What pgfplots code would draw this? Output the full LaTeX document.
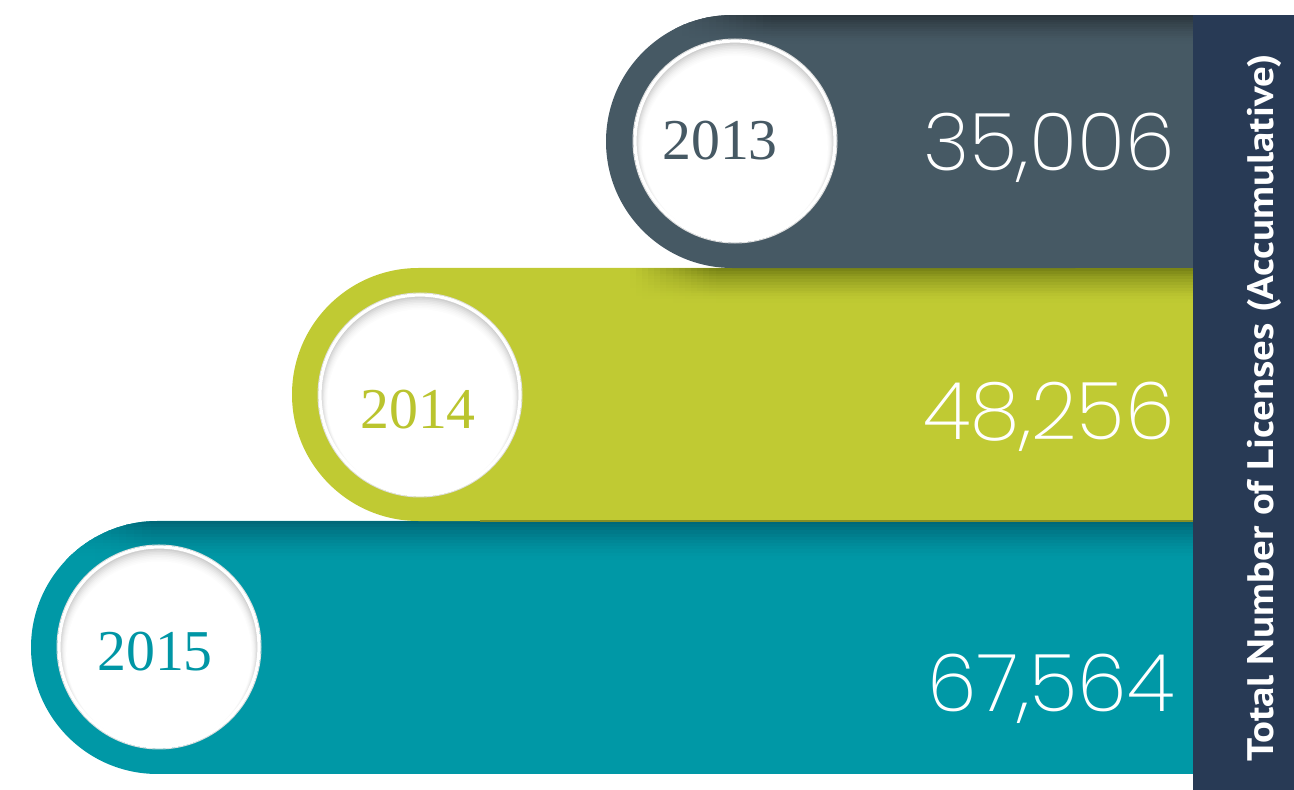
\documentclass[border=0pt]{standalone}
\usepackage{pgfplots}
\pgfplotsset{compat=1.18}
\usepackage{pgfplotstable}
\usepackage{graphicx}
\usepackage{fontspec}
\setmainfont{Liberation Serif}
\IfFontExistsTF{Poppins ExtraLight}{\newfontfamily\valfont{Poppins ExtraLight}}{\newfontfamily\valfont{Poppins Light}}
\newfontfamily\bandfont{PT Sans}
\definecolor{cA}{HTML}{465964}
\definecolor{cAd}{HTML}{2A353C}
\definecolor{cB}{HTML}{C0CA33}
\definecolor{cBd}{HTML}{7A8516}
\definecolor{cC}{HTML}{0098A6}
\definecolor{cCd}{HTML}{006878}
\definecolor{band}{HTML}{283A55}
\definecolor{yA}{HTML}{465964}
\definecolor{yB}{HTML}{BAC42E}
\definecolor{yC}{HTML}{0096A5}
\pgfplotstableread{
year value vx vy
2013 35006 1175 170
2014 48256 1175 440
2015 67564 1175 712
}\licenses
% bar body with a round left end
\newcommand{\licpath}[3]{(axis cs:1193,#2) -- (axis cs:#1+126.5,#2) arc[start angle=90,end angle=270,radius=63.25bp] -- (axis cs:1193,#3) -- cycle}
\newcommand{\licbar}[8]{% #1 left #2 top #3 bottom #4 colour #5 dark #6 fade start #7 fade end #8 shadow depth
  \fill[#4] \licpath{#1}{#2}{#3};
  \begin{scope}
    \clip \licpath{#1}{#2}{#3};
    \foreach \i in {0,...,11}{
      \pgfmathsetmacro\ya{#2+\i*#8/12}
      \pgfmathsetmacro\yb{#2+(\i+1)*#8/12+0.7}
      \pgfmathtruncatemacro\p{100*(1-\i/12)^1.5}
      \edef\tmp{\noexpand\fill[#5!\p!#4] (axis cs:#7,\ya) rectangle (axis cs:1193,\yb);}\tmp
      \foreach \j in {0,...,13}{
        \pgfmathsetmacro\xa{#6+\j*(#7-#6)/14}
        \pgfmathsetmacro\xb{#6+(\j+1)*(#7-#6)/14+0.7}
        \pgfmathtruncatemacro\q{\p*(\j+0.5)/14}
        \edef\tmp{\noexpand\fill[#5!\q!#4] (axis cs:\xa,\ya) rectangle (axis cs:\xb,\yb);}\tmp
      }
    }
  \end{scope}
}
\begin{document}
\begin{tikzpicture}
\begin{axis}[width=647bp,height=395bp,scale only axis,
  xmin=0,xmax=1294,ymin=0,ymax=790,y dir=reverse,hide axis,clip=false]
% background
\fill[white] (axis cs:0,0) rectangle (axis cs:1294,790);
% bars
\licbar{31}{521}{774}{cC}{cCd}{40}{150}{38}
\licbar{292}{268}{521}{cB}{cBd}{630}{715}{34}
\licbar{606}{15}{268}{cA}{cAd}{675}{770}{28}
\draw[cB!70!black, line width=0.6bp] (axis cs:480,521) -- (axis cs:1193,521);
% circles with a soft inner shadow at the top
\foreach \cx/\cy in {735/141, 420/395, 159/647}{
  \edef\tmp{\noexpand\draw[black!14, line width=0.5bp] (axis cs:\cx,\cy) circle[radius=51bp];}\tmp
  \foreach \k/\g in {0/24,1/19,2/15,3/11.5,4/8.5,5/6,6/4,7/2.5,8/1.2,9/0}{
    \pgfmathsetmacro\sh{\k*0.8}
    \pgfmathsetmacro\rr{(100-\sh)/2}
    \pgfmathsetmacro\yy{\cy+\sh}
    \edef\tmp{\noexpand\fill[black!\g!white] (axis cs:\cx,\yy) circle[radius=\rr bp];}\tmp
  }
  \edef\tmp{\noexpand\draw[white, line width=1.6bp] (axis cs:\cx,\cy) circle[radius=50bp];}\tmp
}
% year labels
\node[inner sep=0, text=yA, font=\fontsize{29}{29}\selectfont] at (axis cs:720,141) {2013};
\node[inner sep=0, text=yB, font=\fontsize{29}{29}\selectfont] at (axis cs:418,410) {2014};
\node[inner sep=0, text=yC, font=\fontsize{29}{29}\selectfont] at (axis cs:155,652) {2015};
% values
\addplot[draw=none, mark=none, point meta=explicit,
  nodes near coords={\pgfmathprintnumber[fixed,precision=0,1000 sep={,},assume math mode=true]{\pgfplotspointmeta}},
  nodes near coords style={anchor=base east, inner sep=0, text=white, font=\valfont\fontsize{40}{40}\selectfont}]
  table[x=vx, y=vy, meta=value] {\licenses};
% right band
\fill[band] (axis cs:1193,15) rectangle (axis cs:1294,790);
\node[rotate=90, anchor=base, inner sep=0, text=white, font=\bandfont\bfseries\fontsize{18.5}{18.5}\selectfont] at (axis cs:1273,408) {\scalebox{1.11}[1]{Total Number of Licenses (Accumulative)}};
\end{axis}
\end{tikzpicture}
\end{document}
